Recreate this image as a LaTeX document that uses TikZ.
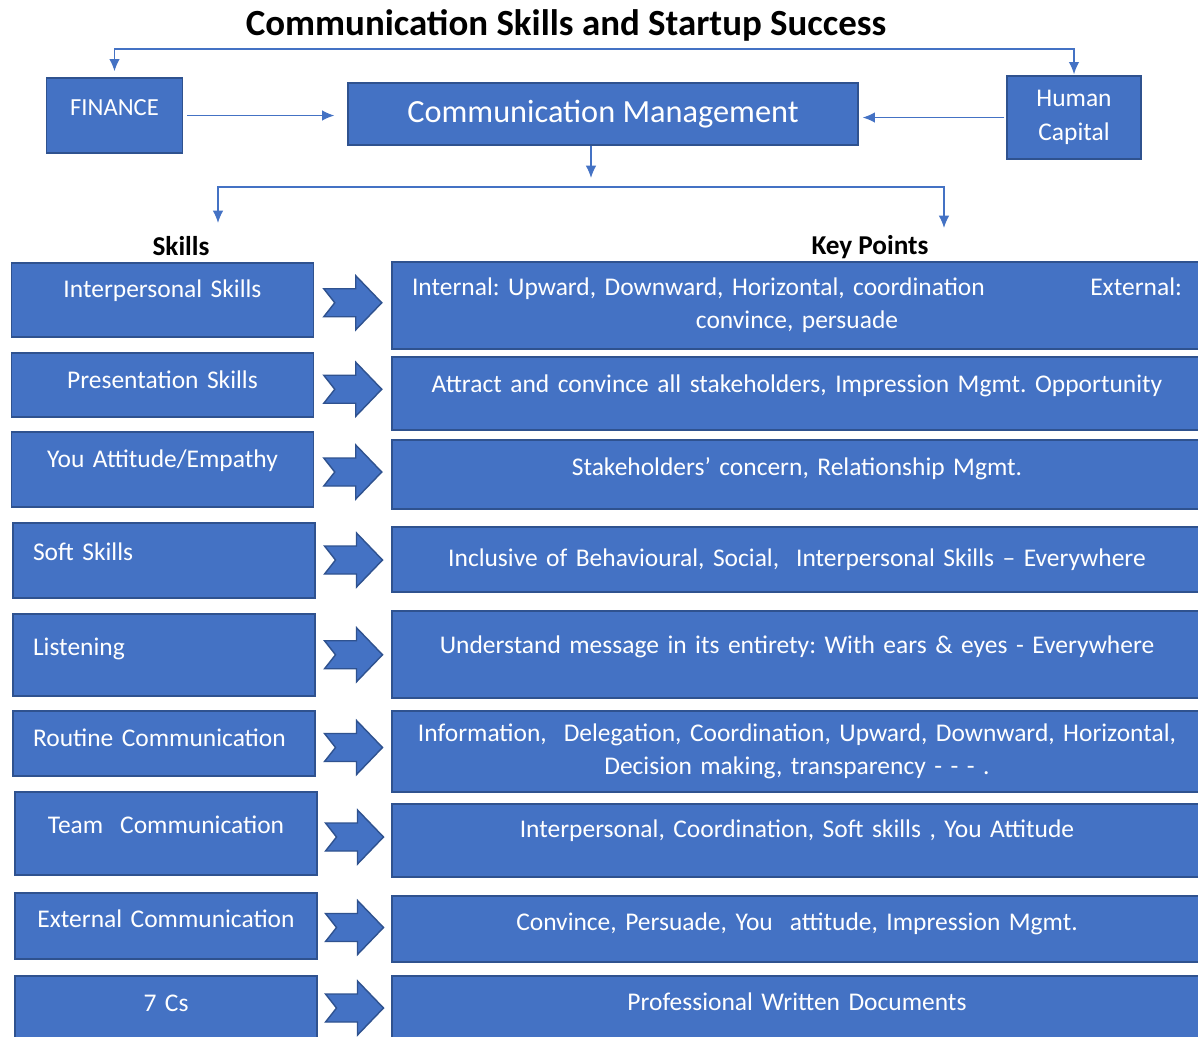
\documentclass[tikz,border=0pt]{standalone}
\usepackage{fontspec}
\setmainfont{Carlito}
\usetikzlibrary{arrows.meta,calc}

\definecolor{boxblue}{HTML}{4472C4}
\definecolor{boxedge}{HTML}{2F528F}

\newcommand\bodyfont{\fontsize{14.5}{19}\selectfont}
\newcommand\headfont{\fontsize{15.5}{18}\selectfont\bfseries}
\frenchspacing

% text sits a little above the middle of most boxes
\tikzset{lift/.style={text height=10pt, text depth=#1pt}}

% notched arrow between a skill and its key point
\tikzset{chev/.pic={
  \filldraw[fill=boxblue, draw=boxedge, line width=0.8pt]
    (-29,-14) -- (3,-14) -- (3,-27) -- (29,0) -- (3,27) -- (3,14) -- (-29,14) -- (-18,0) -- cycle;
}}

\begin{document}
\begin{tikzpicture}[x=0.02cm, y=-0.02cm, >={Latex[length=7pt,width=6pt]}]
  \tikzstyle{box} = [rectangle, draw=boxedge, line width=0.8pt, fill=boxblue, text=white, inner ysep=0pt]
  \tikzstyle{skill} = [box, text width=5.24cm, inner xsep=0.4cm, align=center, font=\bodyfont]
  \tikzstyle{point} = [box, text width=15.4cm, inner xsep=0.4cm, align=center, font=\bodyfont]
  \tikzstyle{head} = [font=\headfont, lift=1.5]
  \tikzstyle{line} = [draw=boxblue, line width=0.8pt, ->]

  \path[fill=white, use as bounding box] (0,0) rectangle (1198,1036);

  \node [lift=1.5, font=\fontsize{21}{25}\selectfont\bfseries] (title) at (566,28) {Communication Skills and Startup Success};

  % top row
  \node [box, minimum width=2.72cm, minimum height=1.5cm, font=\fontsize{14}{17}\selectfont, lift=10] (fin) at (114.5,115.5) {FINANCE};
  \node [box, minimum width=10.2cm, minimum height=1.24cm, font=\fontsize{18.4}{22}\selectfont, lift=0] (cm) at (603,114) {Communication Management};
  \node [box, minimum width=2.68cm, minimum height=1.66cm, align=center, font=\fontsize{14.5}{19.3}\selectfont] (hc) at (1074,117.5) {Human\\Capital};

  \coordinate (rail) at (600,49);
  \coordinate (split) at (591,187);
  \coordinate (skl) at (218,223);
  \coordinate (kpt) at (944,228);

  \path [line, <->, shorten <=0.12cm, shorten >=0.02cm] (fin.north) |- (rail) -| (hc.north);
  \path [line, shorten <=0.08cm, shorten >=0.26cm] (fin.east) -- (fin.east -| cm.west);
  \path [line, shorten <=0.04cm, shorten >=0.08cm] (hc.west) -- (hc.west -| cm.east);
  \path [line, shorten >=0.18cm] (cm.south -| split) -- (split);
  \path [line, <->] (skl) |- (split) -| (kpt);

  \node [head] (skills) at (181,248) {Skills};
  \node [head] (keys) at (870,247) {Key Points};

  % skills
  \node [skill, minimum height=1.48cm, lift=12.9] (s1) at (162.5,300) {Interpersonal Skills};
  \node [skill, minimum height=1.28cm, lift=6.1] (s2) at (162.5,385) {Presentation Skills};
  \node [skill, minimum height=1.5cm, lift=12.3] (s3) at (162.5,469.5) {You Attitude/Empathy};
  \node [skill, align=left, minimum height=1.5cm, lift=10] (s4) at (164,560.5) {Soft Skills};
  \node [skill, align=left, minimum height=1.64cm, lift=9.5] (s5) at (164,655) {Listening};
  \node [skill, align=left, minimum height=1.3cm, lift=6.6] (s6) at (164,743.5) {Routine Communication};
  \node [skill, minimum height=1.66cm, lift=10] (s7) at (166,833.5) {Team~ Communication};
  \node [skill, minimum height=1.32cm, lift=8.3] (s8) at (166,926) {External Communication};
  \node [skill, minimum height=1.28cm, lift=6.1] (s9) at (166,1008) {7 Cs};

  % key points
  \node [point, minimum height=1.74cm] (k1) at (797,305.5) {Internal: Upward, Downward, Horizontal, coordination\hfill External:\\convince, persuade};
  \node [point, minimum height=1.46cm, lift=11.2] (k2) at (797,393.5) {Attract and convince all stakeholders, Impression Mgmt. Opportunity};
  \node [point, minimum height=1.38cm, lift=8.9] (k3) at (797,474.5) {Stakeholders' concern, Relationship Mgmt.};
  \node [point, minimum height=1.3cm, lift=1.5] (k4) at (797,559.5) {Inclusive of Behavioural, Social,~ Interpersonal Skills -- Everywhere};
  \node [point, minimum height=1.74cm, lift=11.7] (k5) at (797,654.5) {Understand message in its entirety: With ears \& eyes - Everywhere};
  \node [point, minimum height=1.62cm] (k6) at (797,751.5) {Information,~ Delegation, Coordination, Upward, Downward, Horizontal,\\Decision making, transparency - - - .};
  \node [point, minimum height=1.46cm, lift=12.9] (k7) at (797,840.5) {Interpersonal, Coordination, Soft skills , You Attitude};
  \node [point, minimum height=1.32cm, lift=8.3] (k8) at (797,929) {Convince, Persuade, You~ attitude, Impression Mgmt.};
  \node [point, minimum height=1.28cm, lift=7.2] (k9) at (797,1008) {Professional Written Documents};

  \pic at ($(s1.east)!0.5!(k1.west)$) {chev};
  \pic at ($(s2.east)!0.5!(k2.west)$) {chev};
  \pic at ($(s3.east)!0.5!(k3.west)$) {chev};
  \pic at ($(s4.east)!0.5!(k4.west)$) {chev};
  \pic at ($(s5.east)!0.5!(k5.west)$) {chev};
  \pic at ($(s6.east)!0.5!(k6.west)$) {chev};
  \pic at ($(s7.east)!0.5!(k7.west)$) {chev};
  \pic at ($(s8.east)!0.5!(k8.west)$) {chev};
  \pic at ($(s9.east)!0.5!(k9.west)$) {chev};
\end{tikzpicture}
\end{document}
